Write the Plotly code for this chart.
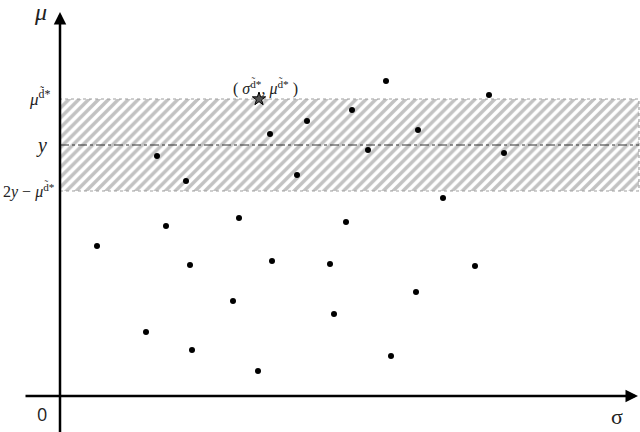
import plotly.graph_objects as go

# 散点数据（σ, μ），原点在坐标轴交点
sigma = [37, 86, 97, 106, 126, 130, 132, 173, 179, 198, 210, 212, 237, 247,
         270, 274, 286, 292, 308, 326, 331, 356, 358, 383, 415, 429, 444]
mu = [150, 64, 240, 170, 215, 131, 46, 95, 178, 25, 262, 135, 221, 275,
      132, 82, 174, 286, 246, 315, 40, 104, 266, 198, 130, 301, 243]

# 关键水平线
mu_star = 297
y_level = 251
lower = 2 * y_level - mu_star
sigma_star = 199

X_MAX = 579

fig = go.Figure()

# 阴影带
fig.add_trace(go.Scatter(
    x=[0, X_MAX, X_MAX, 0, 0],
    y=[lower, lower, mu_star, mu_star, lower],
    mode="lines", fill="toself",
    fillcolor="white",
    fillpattern=dict(shape="/", fgcolor="#858585", bgcolor="white",
                     size=7, solidity=0.5),
    line=dict(color="#a0a0a0", width=1.2, dash="dot"),
    hoverinfo="skip", showlegend=False,
))

# y 线（点划线）
fig.add_trace(go.Scatter(
    x=[0, X_MAX], y=[y_level, y_level], mode="lines",
    line=dict(color="#333333", width=1, dash="dashdot"),
    hoverinfo="skip", showlegend=False,
))

# 散点
fig.add_trace(go.Scatter(
    x=sigma, y=mu, mode="markers",
    marker=dict(color="black", size=6),
    showlegend=False,
))

# 星号点
fig.add_trace(go.Scatter(
    x=[sigma_star], y=[mu_star], mode="markers",
    marker=dict(symbol="star", size=10, color="#555555",
                line=dict(color="black", width=1)),
    showlegend=False,
))

# 坐标轴箭头
fig.add_annotation(x=0, y=384, ax=0, ay=-40, xref="x", yref="y",
                   axref="x", ayref="y", showarrow=True, arrowhead=2,
                   arrowsize=1, arrowwidth=2.5, arrowcolor="black", text="")
fig.add_annotation(x=578, y=0, ax=-36, ay=0, xref="x", yref="y",
                   axref="x", ayref="y", showarrow=True, arrowhead=2,
                   arrowsize=1, arrowwidth=2.5, arrowcolor="black", text="")

serif = "Liberation Serif"
dsup = "<sup>d\u0303*</sup>"

labels = [
    (-20, 384, "<i>μ</i>", 24, serif, "center"),
    (-8, mu_star + 2, f"<i>μ</i>{dsup}", 17, serif, "right"),
    (-19, y_level, "<i>y</i>", 20, serif, "center"),
    (-3, lower + 1, f"2<i>y</i> − <i>μ</i>{dsup}", 16, serif, "right"),
    (-18, -18, "0", 18, "Open Sans", "center"),
    (557, -20, "σ", 22, serif, "center"),
    (sigma_star + 6, mu_star + 12,
     f"( <i>σ</i>{dsup}, <i>μ</i>{dsup} )", 16, serif, "center"),
]
for lx, ly, txt, size, fam, anchor in labels:
    fig.add_annotation(x=lx, y=ly, text=txt, showarrow=False,
                       xanchor=anchor, yanchor="middle",
                       font=dict(size=size, family=fam, color="#222222"))

fig.update_layout(
    width=640, height=432,
    margin=dict(l=0, r=0, t=0, b=0),
    plot_bgcolor="white", paper_bgcolor="white",
    xaxis=dict(range=[-60, 580], visible=False),
    yaxis=dict(range=[-36, 396], visible=False),
)

fig.write_html("out.html", config={"displayModeBar": False},
               post_script="document.body.style.margin='0';")
